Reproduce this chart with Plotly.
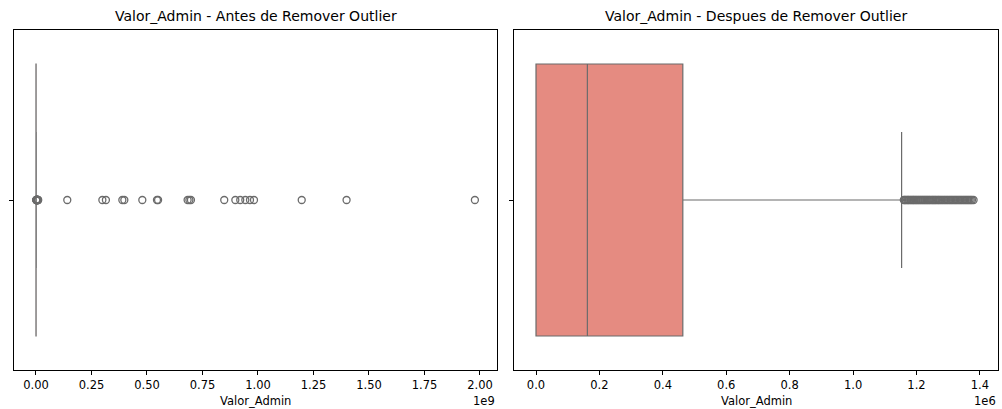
import plotly.graph_objects as go

# ---- data ----
stats_before = dict(q1=0.0, median=0.162e6, q3=0.463e6, lowerfence=0.0, upperfence=1.153e6)
outliers_before = [1.2e6, 1.5e6, 2.0e6, 2.5e6, 3.0e6, 3.5e6, 4.0e6, 4.5e6, 5.0e6, 5.5e6,
                   6.0e6, 6.5e6, 7.0e6, 8.0e6, 9.0e6, 1.0e7,
                   1.41e8, 2.99e8, 3.15e8, 3.89e8, 3.98e8, 4.79e8, 5.45e8, 5.50e8,
                   6.83e8, 6.91e8, 6.98e8, 8.48e8, 8.98e8, 9.20e8, 9.43e8, 9.64e8,
                   9.82e8, 1.197e9, 1.399e9, 1.977e9]

stats_after = dict(q1=0.0, median=0.162e6, q3=0.463e6, lowerfence=0.0, upperfence=1.153e6)
outliers_after = [1.160e6, 1.163e6, 1.166e6, 1.170e6, 1.173e6, 1.176e6, 1.180e6, 1.183e6,
                  1.187e6, 1.190e6, 1.193e6, 1.197e6, 1.200e6, 1.204e6, 1.207e6, 1.211e6,
                  1.214e6, 1.218e6, 1.221e6, 1.225e6, 1.228e6, 1.232e6, 1.235e6, 1.239e6,
                  1.242e6, 1.246e6, 1.250e6, 1.253e6, 1.257e6, 1.260e6, 1.264e6, 1.268e6,
                  1.271e6, 1.275e6, 1.279e6, 1.283e6, 1.287e6, 1.291e6, 1.295e6, 1.299e6,
                  1.303e6, 1.307e6, 1.311e6, 1.315e6, 1.319e6, 1.323e6, 1.327e6, 1.331e6,
                  1.335e6, 1.339e6, 1.343e6, 1.347e6, 1.351e6, 1.355e6, 1.359e6, 1.363e6,
                  1.367e6, 1.371e6, 1.375e6, 1.380e6]

ticks_before = [0, 0.25e9, 0.5e9, 0.75e9, 1.0e9, 1.25e9, 1.5e9, 1.75e9, 2.0e9]
ticklabels_before = ["0.00", "0.25", "0.50", "0.75", "1.00", "1.25", "1.50", "1.75", "2.00"]
ticks_after = [0, 0.2e6, 0.4e6, 0.6e6, 0.8e6, 1.0e6, 1.2e6, 1.4e6]
ticklabels_after = ["0.0", "0.2", "0.4", "0.6", "0.8", "1.0", "1.2", "1.4"]

titles = ["Valor_Admin - Antes de Remover Outlier", "Valor_Admin - Despues de Remover Outlier"]
xlabel = "Valor_Admin"
exps = ["1e9", "1e6"]

# ---- styling ----
W, H = 1002, 409
FONT = "DejaVu Sans"
BOX_FILL = "#e58b81"
LINE = "#6b6b6b"
TICK_SIZE = 11.5
TITLE_SIZE = 14

def px_x(p):
    return p / W

def px_y(p):
    return 1 - p / H

dom_y = [px_y(370), px_y(30)]
dom_x1 = [px_x(14), px_x(497)]
dom_x2 = [px_x(514), px_x(998)]

fig = go.Figure()

for i, (st, outl) in enumerate([(stats_before, outliers_before), (stats_after, outliers_after)]):
    xa = "x" if i == 0 else "x2"
    ya = "y" if i == 0 else "y2"
    fig.add_trace(go.Box(
        orientation="h", y=[0],
        q1=[st["q1"]], median=[st["median"]], q3=[st["q3"]],
        lowerfence=[st["lowerfence"]], upperfence=[st["upperfence"]],
        width=0.8, whiskerwidth=0.5,
        fillcolor=BOX_FILL, line=dict(color=LINE, width=1.2),
        xaxis=xa, yaxis=ya, showlegend=False, hoverinfo="skip",
    ))
    fig.add_trace(go.Scatter(
        x=outl, y=[0] * len(outl), mode="markers",
        marker=dict(symbol="circle-open", size=7, color=LINE, line=dict(width=1.3, color=LINE)),
        xaxis=xa, yaxis=ya, showlegend=False, hoverinfo="skip",
    ))

axis_common = dict(showline=True, mirror=True, linecolor="black", linewidth=1,
                   ticks="outside", ticklen=4, tickcolor="black", tickwidth=1,
                   showgrid=False, zeroline=False,
                   tickfont=dict(family=FONT, size=TICK_SIZE, color="black"))

fig.update_layout(
    width=W, height=H, margin=dict(l=0, r=0, t=0, b=0),
    paper_bgcolor="white", plot_bgcolor="white",
    font=dict(family=FONT, color="black"),
    xaxis=dict(domain=dom_x1, range=[-0.099e9, 2.0766e9], tickmode="array",
               tickvals=ticks_before, ticktext=ticklabels_before, anchor="y", **axis_common),
    yaxis=dict(domain=dom_y, range=[-0.5, 0.5], tickmode="array", tickvals=[0], ticktext=[""],
               anchor="x", **axis_common),
    xaxis2=dict(domain=dom_x2, range=[-0.0694e6, 1.457e6], tickmode="array",
                tickvals=ticks_after, ticktext=ticklabels_after, anchor="y2", **axis_common),
    yaxis2=dict(domain=dom_y, range=[-0.5, 0.5], tickmode="array", tickvals=[0], ticktext=[""],
                anchor="x2", **axis_common),
)

annotations = []
for i, dom in enumerate([dom_x1, dom_x2]):
    cx = (dom[0] + dom[1]) / 2
    annotations.append(dict(text=titles[i], x=cx, y=px_y(16), xref="paper", yref="paper",
                            showarrow=False, xanchor="center", yanchor="middle",
                            font=dict(family=FONT, size=TITLE_SIZE, color="black")))
    annotations.append(dict(text=xlabel, x=cx, y=px_y(401), xref="paper", yref="paper",
                            showarrow=False, xanchor="center", yanchor="middle",
                            font=dict(family=FONT, size=TICK_SIZE, color="black")))
    annotations.append(dict(text=exps[i], x=dom[1], y=px_y(401), xref="paper", yref="paper",
                            showarrow=False, xanchor="right", yanchor="middle",
                            font=dict(family=FONT, size=TICK_SIZE, color="black")))
fig.update_layout(annotations=annotations)

fig.write_html("out.html")
